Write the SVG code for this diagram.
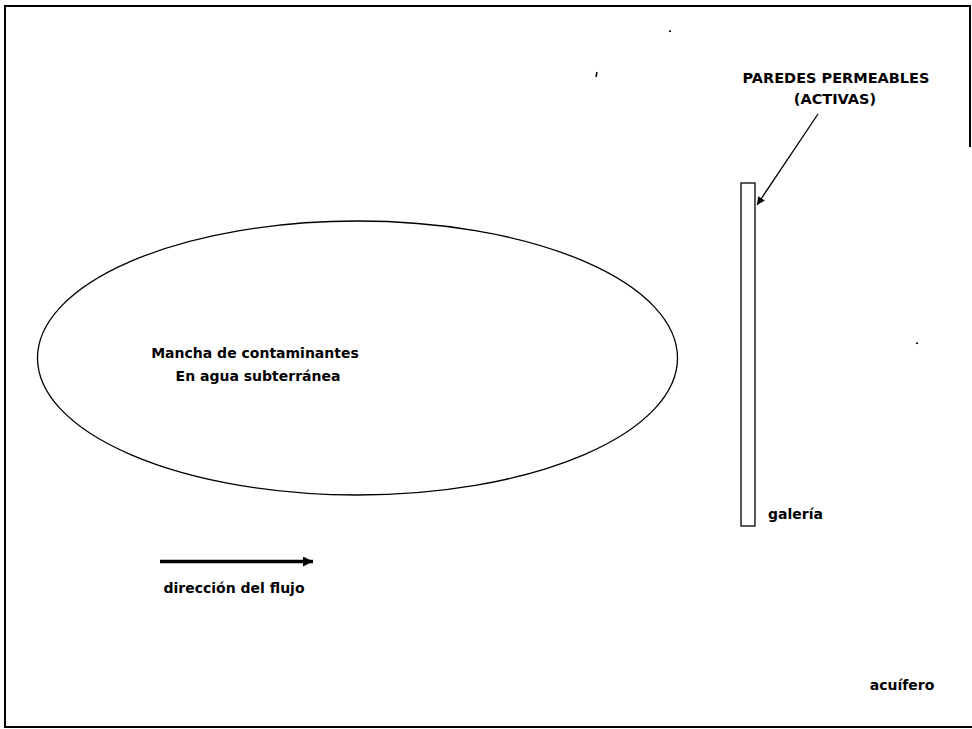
<svg xmlns="http://www.w3.org/2000/svg" width="972" height="729" viewBox="0 0 972 729">
<style>
  text { font-family: "DejaVu Sans", Verdana, sans-serif; font-weight: bold; font-size: 14px; fill: #000; }
  .caps { font-size: 14.5px; }
  .frame { fill: none; stroke: #000; stroke-width: 2; }
  .shape { fill: #fff; stroke: #000; stroke-width: 1.3; }
  .mark { stroke: #000; stroke-width: 1.5; fill: none; }
</style>
<defs>
  <marker id="headThin" viewBox="0 0 10 10" refX="10" refY="5" markerWidth="10" markerHeight="8" markerUnits="userSpaceOnUse" orient="auto">
    <path d="M0,0 L10,5 L0,10 Z" fill="#000"/>
  </marker>
  <marker id="headThick" viewBox="0 0 10 10" refX="10" refY="5" markerWidth="12" markerHeight="10" markerUnits="userSpaceOnUse" orient="auto">
    <path d="M0,0 L10,5 L0,10 Z" fill="#000"/>
  </marker>
</defs>
<rect width="972" height="729" fill="#fff"/>
<!-- frame -->
<path class="frame" d="M970,147 L970,6 L5,6 L5,727 L972,727"/>
<!-- stray marks -->
<g id="marks">
  <path class="mark" d="M669,31 L671,31.5"/>
  <path class="mark" d="M597,72 L596,77"/>
  <path class="mark" d="M286,288 L289,292"/>
  <path class="mark" d="M916,343 L918,343.5"/>
</g>
<g id="plume">
  <ellipse class="shape" cx="357.5" cy="358" rx="320" ry="137"/>
  <text x="255" y="358" text-anchor="middle">Mancha de contaminantes</text>
  <text x="258" y="381" text-anchor="middle">En agua subterránea</text>
</g>
<g id="gallery">
  <rect class="shape" x="741" y="183" width="14" height="343"/>
  <text x="768" y="519">galería</text>
</g>
<g id="walls-label">
  <text class="caps" x="836" y="83" text-anchor="middle">PAREDES PERMEABLES</text>
  <text class="caps" x="835" y="104" text-anchor="middle">(ACTIVAS)</text>
</g>
<g id="flow">
  <text x="234" y="593" text-anchor="middle">dirección del flujo</text>
</g>
<g id="aquifer">
  <text x="902" y="690" text-anchor="middle">acuífero</text>
</g>
<g id="connectors">
  <line x1="818" y1="114" x2="757" y2="205" stroke="#000" stroke-width="1.3" marker-end="url(#headThin)"/>
  <line x1="160" y1="561.5" x2="313" y2="561.5" stroke="#000" stroke-width="3.5" marker-end="url(#headThick)"/>
</g>
</svg>
